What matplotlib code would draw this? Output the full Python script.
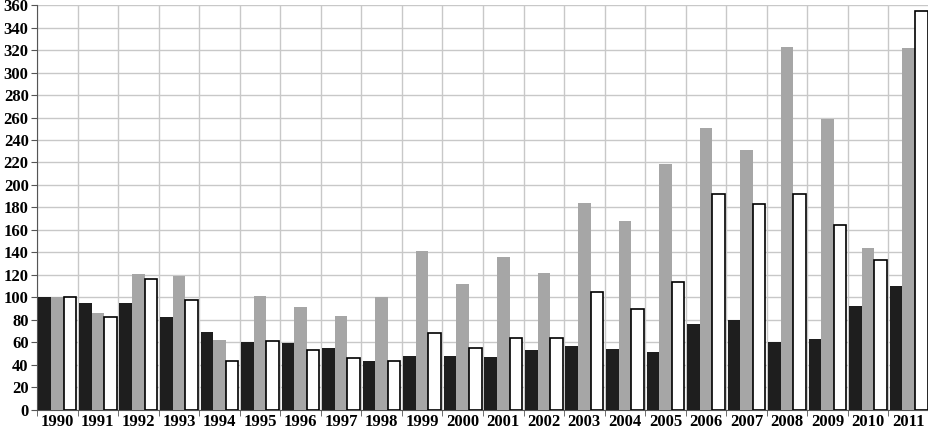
import numpy as np
import matplotlib.pyplot as plt

years = [str(y) for y in range(1990, 2012)]
black_vals = [100, 95, 95, 82, 69, 60, 59, 55, 43, 48, 48, 47, 53, 57, 54, 51, 76, 80, 60, 63, 92, 110]
gray_vals = [100, 86, 121, 119, 62, 101, 91, 83, 100, 141, 112, 136, 122, 184, 168, 219, 251, 231, 323, 259, 144, 322]
white_vals = [100, 82, 116, 98, 43, 61, 53, 46, 43, 68, 55, 64, 64, 105, 90, 114, 192, 183, 192, 164, 133, 355]

plt.rcParams['font.family'] = ['Liberation Serif', 'DejaVu Serif']
plt.rcParams['font.weight'] = 'bold'
plt.rcParams['font.size'] = 12

fig = plt.figure(figsize=(9.29, 4.33), dpi=100)
ax = fig.add_axes([0.0398, 0.054, 0.9602, 0.934])

x = np.arange(len(years))
w = 0.31
ax.bar(x - w, black_vals, w, color='#1e1e1e', zorder=3)
ax.bar(x, gray_vals, w, color='#a6a6a6', zorder=3)
ax.bar(x + w, white_vals, w, color='white', edgecolor='black', linewidth=1.2, zorder=3)

ax.set_xlim(-0.5, len(years) - 0.5)
ax.set_ylim(0, 360)
ax.set_yticks(range(0, 361, 20))
ax.set_xticks(x)
ax.set_xticklabels(years)
ax.set_xticks(np.arange(-0.5, len(years), 1), minor=True)
ax.tick_params(axis='x', which='major', length=0, pad=3)
ax.tick_params(axis='x', which='minor', length=4, color='#555555')
ax.tick_params(axis='y', length=4, color='#555555', pad=2)

ax.grid(axis='y', color='#c8c8c8', linewidth=1, zorder=0)
ax.grid(axis='x', which='minor', color='#c8c8c8', linewidth=1, zorder=0)

for s in ['top', 'right']:
    ax.spines[s].set_visible(False)
ax.spines['left'].set_color('#555555')
ax.spines['bottom'].set_color('#555555')

fig.savefig('out.png', dpi=100)
